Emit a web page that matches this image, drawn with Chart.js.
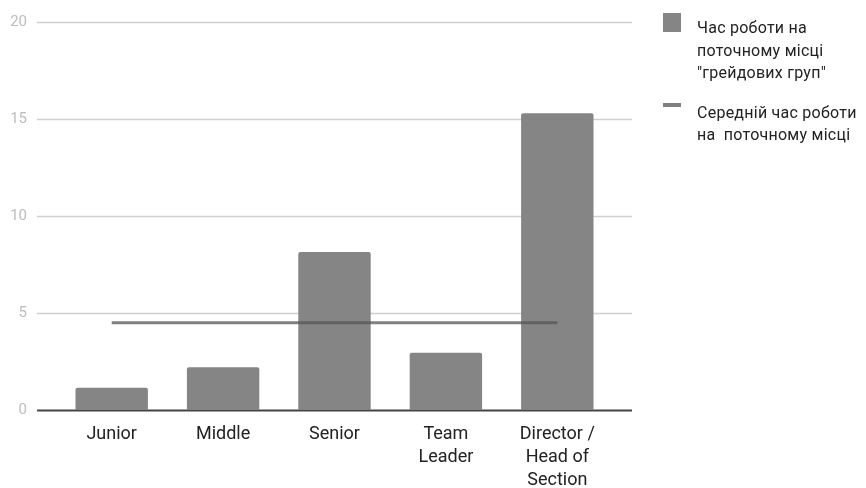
<!doctype html>
<html lang="uk">

<head>
    <meta charset="utf-8">
    <title>Час роботи на поточному місці</title>
    <script src="https://cdn.jsdelivr.net/npm/chart.js@4.4.0/dist/chart.umd.min.js"></script>
    <style>
        body { margin: 0; background: #fff; font-family: Roboto, sans-serif; }
        #wrap { position: relative; width: 866px; height: 488px; }
        #legend { position: absolute; left: 663px; top: 12px; font-size: 16px; color: #222; line-height: 22.5px; letter-spacing: 0.25px; white-space: pre; }
        .item { display: flex; align-items: flex-start; margin-bottom: 12px; }
        .item > div:last-child { padding-top: 5px; }
        .swatch { width: 18px; height: 19px; margin: 1px 16px 0 0; flex: none; }
        .dash { width: 18px; height: 4px; margin: 6px 16px 0 0; flex: none; }
    </style>
</head>

<body>
    <div id="wrap">
        <canvas id="chart" width="866" height="488"></canvas>
        <div id="legend"></div>
    </div>

    <script>
        var grupy = [['Junior'], ['Middle'], ['Senior'], ['Team', 'Leader'], ['Director /', 'Head of', 'Section']];
        var chasRoboty = [1.15, 2.2, 8.15, 2.95, 15.3];
        var serednij = [4.5, 4.5, 4.5, 4.5, 4.5];
        var nazvy = [['Час роботи на', 'поточному місці', '"грейдових груп"'], ['Середній час роботи', 'на  поточному місці']];

        // горизонтальна сітка трохи ширша за область графіка
        var sitka = {
            id: 'sitka',
            beforeDatasetsDraw: function (chart) {
                var ctx = chart.ctx, a = chart.chartArea, y = chart.scales.y;
                ctx.save();
                y.ticks.forEach(function (t) {
                    var py = Math.round(y.getPixelForValue(t.value)) + 0.5;
                    ctx.beginPath();
                    ctx.moveTo(a.left - 19, py);
                    ctx.lineTo(a.right + 19, py);
                    if (t.value === 0) {
                        ctx.strokeStyle = '#444';
                        ctx.lineWidth = 2;
                    } else {
                        ctx.strokeStyle = '#d0d0d0';
                        ctx.lineWidth = 1.5;
                    }
                    ctx.stroke();
                });
                ctx.restore();
            }
        };

        var chart = new Chart(document.getElementById('chart').getContext('2d'), {
            data: {
                labels: grupy,
                datasets: [{
                    type: 'bar',
                    label: nazvy[0].join(' '),
                    data: chasRoboty,
                    backgroundColor: '#858585',
                    borderRadius: { topLeft: 2, topRight: 2 },
                    borderSkipped: 'bottom',
                    categoryPercentage: 1,
                    barPercentage: 0.65,
                    order: 2
                }, {
                    type: 'line',
                    label: nazvy[1].join(' '),
                    data: serednij,
                    borderColor: 'rgba(85, 85, 85, 0.75)',
                    borderWidth: 3,
                    pointRadius: 0,
                    order: 1
                }]
            },
            options: {
                responsive: false,
                animation: false,
                layout: { padding: { top: 22, right: 253, bottom: 0, left: 0 } },
                plugins: {
                    legend: { display: false },
                    tooltip: { enabled: false }
                },
                scales: {
                    x: {
                        grid: { display: false, drawTicks: false },
                        border: { display: false },
                        ticks: {
                            padding: 13,
                            color: '#222',
                            font: { family: 'Roboto', size: 18, lineHeight: 1.28 },
                            maxRotation: 0,
                            autoSkip: false
                        },
                        afterFit: function (s) { s.height = 78; }
                    },
                    y: {
                        min: 0,
                        max: 20,
                        weight: 1,
                        grid: { display: false, drawTicks: false },
                        border: { display: false },
                        ticks: {
                            stepSize: 5,
                            padding: 1,
                            color: '#bdbdbd',
                            font: { family: 'Roboto', size: 15 }
                        },
                        afterFit: function (s) { s.width = 28; }
                    },
                    // порожня вісь — відступ між підписами та стовпчиками
                    vidstup: {
                        type: 'linear',
                        position: 'left',
                        weight: 0,
                        grid: { display: false, drawTicks: false },
                        border: { display: false },
                        ticks: { display: false },
                        afterFit: function (s) { s.width = 28; }
                    }
                }
            },
            plugins: [sitka]
        });

        // легенда праворуч
        var leg = document.getElementById('legend');
        chart.data.datasets.forEach(function (ds, i) {
            var item = document.createElement('div');
            item.className = 'item';
            var mark = document.createElement('div');
            mark.className = ds.type === 'bar' ? 'swatch' : 'dash';
            mark.style.background = ds.type === 'bar' ? ds.backgroundColor : '#808080';
            var txt = document.createElement('div');
            txt.textContent = nazvy[i].join('\n');
            item.appendChild(mark);
            item.appendChild(txt);
            leg.appendChild(item);
        });
    </script>
</body>

</html>
